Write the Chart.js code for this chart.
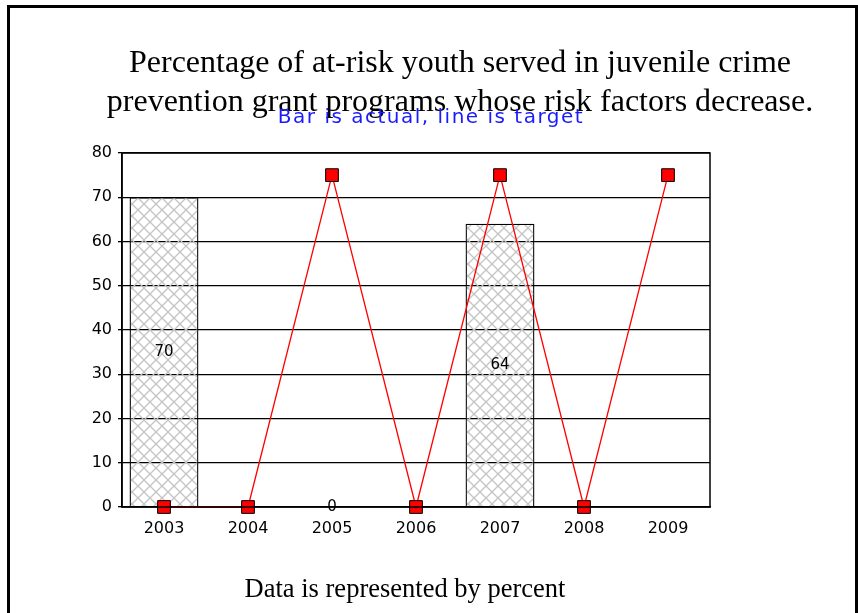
<!DOCTYPE html>
<html>
<head>
<meta charset="utf-8">
<script src="https://cdn.jsdelivr.net/npm/chart.js@4/dist/chart.umd.min.js"></script>
<style>
  html, body { margin: 0; padding: 0; background: #fff; overflow: hidden; }
  body { width: 858px; height: 613px; position: relative; }
  .frame { position: absolute; left: 7px; top: 5px; width: 845px; height: 640px; border: 3px solid #000; }
  .title { position: absolute; left: 0; width: 920px; text-align: center; font-family: "Liberation Serif", "Times New Roman", serif; font-size: 32px; line-height: 39px; top: 42px; color: #000; white-space: nowrap; }
  .subtitle { position: absolute; left: 0; width: 862px; text-align: center; font-family: "DejaVu Sans", Verdana, sans-serif; font-size: 20px; line-height: 20px; letter-spacing: 1.5px; top: 106px; color: #1a1aff; white-space: nowrap; }
  .footer { position: absolute; left: 0; width: 810px; text-align: center; font-family: "Liberation Serif", "Times New Roman", serif; font-size: 26.5px; line-height: 26px; top: 575px; color: #000; white-space: nowrap; }
  #chart { position: absolute; left: 0; top: 0; }
</style>
</head>
<body>
<div class="frame"></div>
<canvas id="chart" width="858" height="613"></canvas>
<div class="title">Percentage of at-risk youth served in juvenile crime<br>prevention grant programs whose risk factors decrease.</div>
<div class="subtitle">Bar is actual, line is target</div>
<div class="footer">Data is represented by percent</div>
<script>
const years = ['2003', '2004', '2005', '2006', '2007', '2008', '2009'];
const actual = [70, null, 0, null, 64, null, null];
const target = [0, 0, 75, 0, 75, 0, 75];
const yTicks = [0, 10, 20, 30, 40, 50, 60, 70, 80];

const tickFont = { family: '"DejaVu Sans", Verdana, sans-serif', size: 16 };

// crosshatch fill for the bars
function hatch() {
    const c = document.createElement('canvas');
    c.width = 12; c.height = 12;
    const g = c.getContext('2d');
    g.strokeStyle = '#c4c4c4';
    g.lineWidth = 1.3;
    g.beginPath();
    g.moveTo(0, 0); g.lineTo(12, 12);
    g.moveTo(12, 0); g.lineTo(0, 12);
    g.stroke();
    return g.createPattern(c, 'repeat');
}

const frameBox = {
    id: 'frameBox',
    afterDraw(chart) {
        const a = chart.chartArea, ctx = chart.ctx;
        ctx.save();
        ctx.strokeStyle = '#000';
        ctx.lineWidth = 1.5;
        ctx.strokeRect(a.left, a.top, a.right - a.left, a.bottom - a.top);
        ctx.restore();
    }
};

// value labels in the middle of each bar
const barLabels = {
    id: 'barLabels',
    afterDatasetsDraw(chart) {
        const meta = chart.getDatasetMeta(1), ctx = chart.ctx;
        ctx.save();
        ctx.font = '15px "DejaVu Sans", Verdana, sans-serif';
        ctx.fillStyle = '#000';
        ctx.textAlign = 'center';
        ctx.textBaseline = 'middle';
        meta.data.forEach((bar, i) => {
            if (actual[i] === null) return;
            const mid = (bar.y + bar.base) / 2;
            ctx.fillText(String(actual[i]), bar.x, mid);
        });
        ctx.restore();
    }
};

const ctx = document.getElementById('chart').getContext('2d');
new Chart(ctx, {
    data: {
        labels: years,
        datasets: [
            {
                type: 'line',
                label: 'Target',
                data: target,
                borderColor: '#ff0000',
                borderWidth: 1.3,
                pointStyle: 'rect',
                pointRadius: 9,
                pointBackgroundColor: '#ff0000',
                pointBorderColor: '#000',
                pointBorderWidth: 1,
                tension: 0,
                clip: false,
                order: 0
            },
            {
                type: 'bar',
                label: 'Actual',
                data: actual,
                backgroundColor: hatch(),
                borderColor: '#000',
                borderWidth: 1.3,
                barPercentage: 0.82,
                categoryPercentage: 1,
                order: 1
            }
        ]
    },
    options: {
        responsive: false,
        animation: false,
        layout: { padding: { left: 72, top: 153, right: 148, bottom: 76 } },
        plugins: {
            legend: { display: false },
            tooltip: { enabled: false }
        },
        scales: {
            x: {
                grid: { display: false },
                border: { color: '#000', width: 1.5 },
                ticks: { color: '#000', font: tickFont, padding: 4 },
                afterFit(axis) { axis.height = 30; }
            },
            y: {
                min: 0,
                max: 80,
                afterBuildTicks(axis) { axis.ticks = yTicks.map(v => ({ value: v })); },
                grid: { color: '#000', lineWidth: 1.3, tickLength: 4 },
                border: { color: '#000', width: 1.5 },
                ticks: { color: '#000', font: tickFont, padding: 6 },
                afterFit(axis) { axis.width = 50; }
            }
        }
    },
    plugins: [frameBox, barLabels]
});
</script>
</body>
</html>
